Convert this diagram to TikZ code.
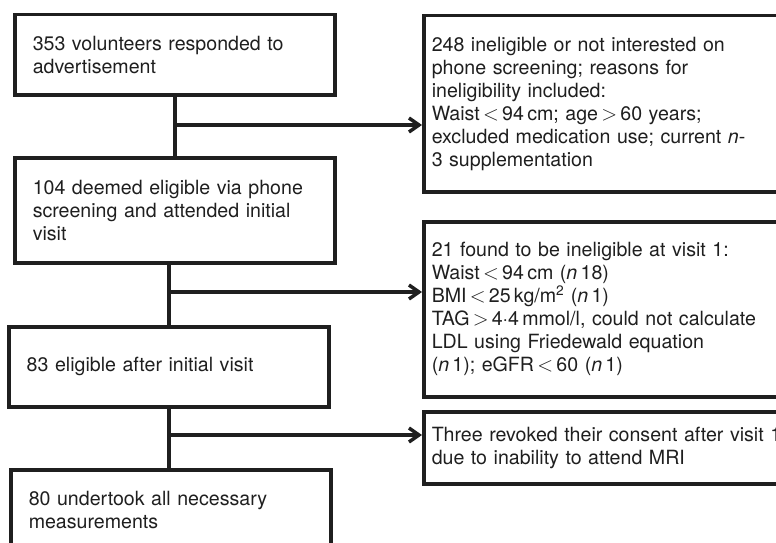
\documentclass[tikz,border=0pt]{standalone}
\usepackage{fontspec}
\setmainfont{TeX Gyre Heros}
\usetikzlibrary{arrows.meta}

\begin{document}
\begin{tikzpicture}[x=1pt,y=-1pt,line width=3.5pt,color=black!88,
	box/.style={draw,rectangle,anchor=north west,align=left,inner ysep=0pt,
		font=\fontsize{19.6}{23}\selectfont},
	leftbox/.style={box,inner xsep=18pt,text width=284pt},
	rightbox/.style={box,inner xsep=8pt,text width=380pt},
	flow/.style={-{Straight Barb[length=10pt,width=14pt]}}]
	\useasboundingbox (0,0) rectangle (776,543);
	\clip (0,0) rectangle (776,543);

	\node[leftbox,minimum height=80pt] (volunteers) at (13,13) {353 volunteers responded to\\advertisement};
	\node[leftbox,minimum height=105pt] (eligible) at (13,156) {104 deemed eligible via phone\\screening and attended initial\\visit};
	\node[leftbox,minimum height=80pt] (visit) at (7,325) {83 eligible after initial visit};
	\node[leftbox,minimum height=80pt] (measured) at (9,468) {80 undertook all necessary\\measurements};

	\node[rightbox,minimum height=176pt] (phone) at (422,14) {248 ineligible or not interested on\\phone screening; reasons for\\ineligibility included:\\Waist\,$<$\,94\,cm; age\,$>$\,60 years;\\excluded medication use; current \textit{n}-\\3 supplementation};
	\node[rightbox,minimum height=175pt] (visitone) at (422,220) {21 found to be ineligible at visit 1:\\Waist\,$<$\,94\,cm (\textit{n}\,18)\\BMI\,$<$\,25\,kg/m\textsuperscript{2} (\textit{n}\,1)\\TAG\,$>$\,4·4\,mmol/l, could not calculate\\LDL using Friedewald equation\\(\textit{n}\,1); eGFR\,$<$\,60 (\textit{n}\,1)};
	\node[rightbox,minimum height=72pt] (revoked) at (422,410) {Three revoked their consent after visit 1\\due to inability to attend MRI};

	\coordinate (fork1) at (volunteers.south |- 0,125);
	\coordinate (fork2) at (visit.north |- 0,292);
	\coordinate (fork3) at (visit.south |- 0,435);

	\draw (volunteers) -- (eligible);
	\draw (visit.north |- eligible.south) -- (visit.north);
	\draw (visit.south) -- (visit.south |- measured.north);
	\draw[flow] (fork1) -- (fork1 -| phone.west);
	\draw[flow] (fork2) -- (fork2 -| visitone.west);
	\draw[flow] (fork3) -- (fork3 -| revoked.west);
\end{tikzpicture}
\end{document}
